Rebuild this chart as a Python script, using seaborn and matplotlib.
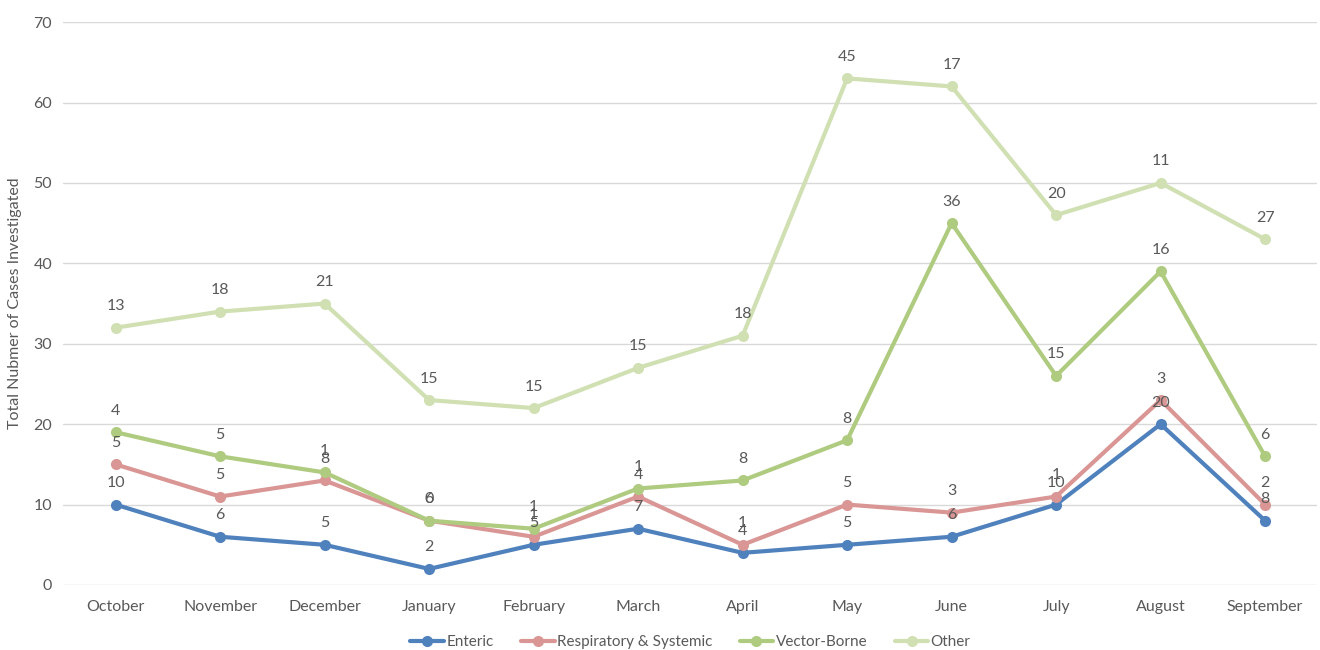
import pandas as pd
import numpy as np
import matplotlib.pyplot as plt
import seaborn as sns

# months and case counts per category (stacked in the chart)
months = ['October', 'November', 'December', 'January', 'February', 'March',
          'April', 'May', 'June', 'July', 'August', 'September']
enteric = [10, 6, 5, 2, 5, 7, 4, 5, 6, 10, 20, 8]
respiratory = [5, 5, 8, 6, 1, 4, 1, 5, 3, 1, 3, 2]
vector = [4, 5, 1, 0, 1, 1, 8, 8, 36, 15, 16, 6]
other = [13, 18, 21, 15, 15, 15, 18, 45, 17, 20, 11, 27]

series_names = ['Enteric', 'Respiratory & Systemic', 'Vector-Borne', 'Other']
series_vals = [enteric, respiratory, vector, other]
colors = ['#4F81BD', '#D99694', '#AFCB80', '#D0E0B3']

# build long table with cumulative (stacked) values
rows = []
running = np.zeros(len(months))
for name, vals in zip(series_names, series_vals):
    running = running + np.array(vals)
    for i, m in enumerate(months):
        rows.append({'month': m, 'idx': i, 'series': name, 'value': vals[i], 'cum': running[i]})
df = pd.DataFrame(rows)

sns.set_style("white")
plt.rcParams['font.family'] = ['Lato', 'DejaVu Sans']
text_col = '#595959'

fig = plt.figure(figsize=(13.2, 6.5), dpi=100)
ax = fig.add_axes([0.048, 0.1, 0.95, 0.866])

sns.lineplot(data=df, x='idx', y='cum', hue='series', hue_order=series_names,
             palette=colors, marker='o', markersize=8, markeredgewidth=0,
             linewidth=3, ax=ax, sort=False)

# data labels: individual values above the stacked points
for _, r in df.iterrows():
    ax.annotate(str(r['value']), (r['idx'], r['cum']), xytext=(0, 15.5),
                textcoords='offset points', ha='center', va='center',
                fontsize=11.5, color=text_col)

ax.set_xlim(-0.5, 11.5)
ax.set_ylim(0, 70)
ax.set_yticks(range(0, 71, 10))
ax.set_xticks(range(len(months)))
ax.set_xticklabels(months)
ax.yaxis.grid(True, color='#D9D9D9', linewidth=1)
ax.set_axisbelow(True)
for s in ax.spines.values():
    s.set_visible(False)
ax.tick_params(axis='both', length=0, labelsize=11.5, labelcolor=text_col)
ax.tick_params(axis='x', pad=11)
ax.tick_params(axis='y', pad=8)
ax.set_xlabel('')
ax.set_ylabel('Total Nubmer of Cases Investigated', fontsize=11.5, color=text_col, labelpad=8)

ax.legend(loc='upper center', bbox_to_anchor=(0.5, -0.065), ncol=4, frameon=False,
          fontsize=11, handlelength=2.2, columnspacing=1.8, labelcolor=text_col,
          handletextpad=0.15)

plt.savefig('out.png', dpi=100)
